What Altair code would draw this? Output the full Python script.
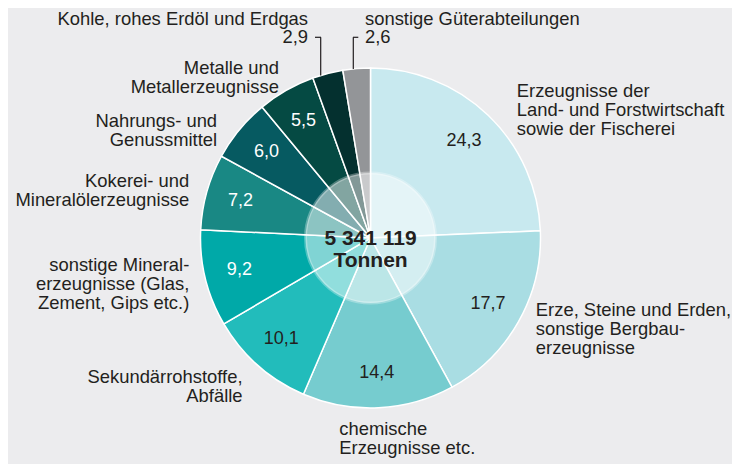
import altair as alt
import pandas as pd

# ---- data ----
categories = [
    "Erzeugnisse der\nLand- und Forstwirtschaft\nsowie der Fischerei",
    "Erze, Steine und Erden,\nsonstige Bergbau-\nerzeugnisse",
    "chemische\nErzeugnisse etc.",
    "Sekundärrohstoffe,\nAbfälle",
    "sonstige Mineral-\nerzeugnisse (Glas,\nZement, Gips etc.)",
    "Kokerei- und\nMineralölerzeugnisse",
    "Nahrungs- und\nGenussmittel",
    "Metalle und\nMetallerzeugnisse",
    "Kohle, rohes Erdöl und Erdgas",
    "sonstige Güterabteilungen",
]
shares = [24.3, 17.7, 14.4, 10.1, 9.2, 7.2, 6.0, 5.5, 2.9, 2.6]
share_labels = ["24,3", "17,7", "14,4", "10,1", "9,2", "7,2", "6,0", "5,5", "2,9", "2,6"]
slice_colors = ["#c8e9ef", "#a9dde3", "#76cccf", "#22bcbb", "#00a9a8",
                "#198884", "#065a61", "#054a43", "#04302f", "#939598"]
center_text = ["5 341 119", "Tonnen"]

# ---- table ----
df = pd.DataFrame({
    "idx": list(range(len(shares))),
    "cat": categories,
    "value": shares,
    "vlabel": share_labels,
})
df["mid"] = df["value"].cumsum() - df["value"] / 2
total = float(sum(shares))
one = pd.DataFrame({"k": [0]})

FONT = "Liberation Sans"
INK = "#231f20"
FS = 18.4
CX, CY = 362.5, 230
R_OUT = 170
tscale = alt.Scale(domain=[0, total])

arcs = alt.Chart(df).mark_arc(
    radius=R_OUT, stroke="white", strokeWidth=1.5, x=CX, y=CY
).encode(
    theta=alt.Theta("value:Q", stack=True, scale=tscale),
    color=alt.Color("cat:N", scale=alt.Scale(domain=categories, range=slice_colors), legend=None),
    order=alt.Order("idx:Q", sort="ascending"),
)

overlay = alt.Chart(one).mark_arc(
    radius=65, theta=0, theta2=6.2832, x=CX, y=CY,
    fillOpacity=0.5, stroke="white", strokeOpacity=0.3, strokeWidth=3
).encode(color=alt.value("white"))

values_in = alt.Chart(df).transform_filter("datum.idx < 8").mark_text(
    radius=135, x=CX, y=CY, fontSize=18, font=FONT, baseline="middle", align="center"
).encode(
    theta=alt.Theta("mid:Q", stack=False, scale=tscale),
    text="vlabel:N",
    color=alt.condition("datum.idx < 4", alt.value(INK), alt.value("white")),
)

center = alt.Chart(one).mark_text(
    x=CX, y=CY + 0.5, fontSize=21, fontWeight="bold", font=FONT, lineHeight=22,
    baseline="middle", align="center", color=INK
).encode(text=alt.value(center_text))

# external category labels anchored on each slice's mid-angle
label_style = [
    # (idx, align, dx, dy)
    (0, "left", 21.7, -11.3),
    (1, "left", 8.6, -10.5),
    (2, "left", -39.7, 17.2),
    (3, "right", -8.8, 9.7),
    (4, "right", -6.4, -9.9),
    (5, "right", -8.0, -2.3),
    (6, "right", -14.6, 3.2),
    (7, "right", -2.3, -7.7),
    (8, "right", -17.1, -38.8),
    (9, "left", 9.2, -33.6),
]
label_layers = []
for i, al, dx, dy in label_style:
    label_layers.append(
        alt.Chart(df).transform_filter(f"datum.idx == {i}").mark_text(
            radius=180, x=CX, y=CY, align=al, dx=dx, dy=dy, baseline="alphabetic",
            fontSize=FS, font=FONT, lineBreak="\n", lineHeight=19, color=INK
        ).encode(theta=alt.Theta("mid:Q", stack=False, scale=tscale), text="cat:N")
    )

# small slices: value labels outside
for i, al, dx, dy in [(8, "right", -17.1, -20.5), (9, "left", 9.2, -15.3)]:
    label_layers.append(
        alt.Chart(df).transform_filter(f"datum.idx == {i}").mark_text(
            radius=180, x=CX, y=CY, align=al, dx=dx, dy=dy, baseline="alphabetic",
            fontSize=FS, font=FONT, color=INK
        ).encode(theta=alt.Theta("mid:Q", stack=False, scale=tscale), text="vlabel:N")
    )

# leader lines for the two small slices
def seg(x1, y1, x2, y2):
    return alt.Chart(one).mark_rule(color=INK, strokeWidth=1.2).encode(
        x=alt.value(x1), y=alt.value(y1), x2=alt.value(x2), y2=alt.value(y2)
    )

leaders = [
    seg(307, 29.3, 313, 29.3), seg(312.7, 29.3, 312.7, 67.5),
    seg(345, 29.3, 350.3, 29.3), seg(345.3, 29.3, 345.3, 61),
]

chart = alt.layer(arcs, overlay, values_in, center, *label_layers, *leaders).properties(
    width=724, height=456, padding=0, autosize=alt.AutoSizeParams(type="none"),
    background="#ececee",
).configure_view(stroke=None)

chart.save("out.html", embed_options={"renderer": "svg", "actions": False})
